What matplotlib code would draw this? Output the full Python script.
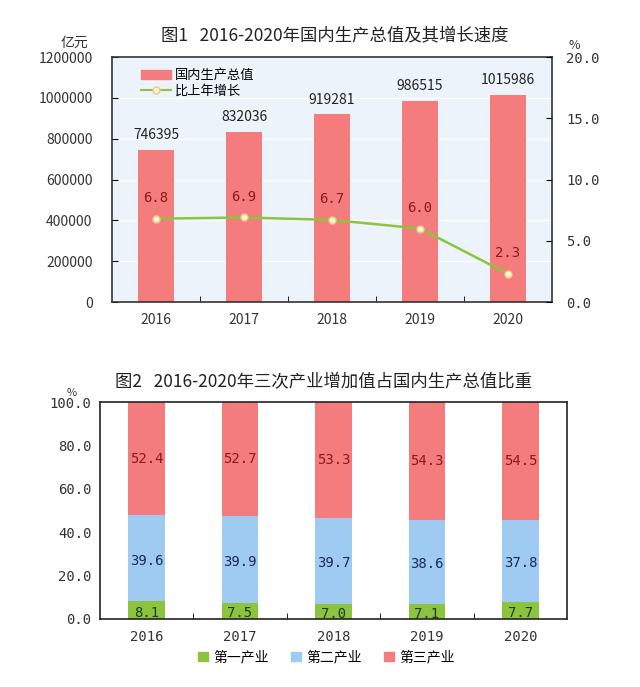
import matplotlib.pyplot as plt
import numpy as np
from matplotlib.patches import Patch
from matplotlib.lines import Line2D

plt.rcParams['font.family'] = ['Noto Sans CJK SC', 'DejaVu Sans']

years = ["2016", "2017", "2018", "2019", "2020"]
gdp = [746395, 832036, 919281, 986515, 1015986]
growth = [6.8, 6.9, 6.7, 6.0, 2.3]

primary = [8.1, 7.5, 7.0, 7.1, 7.7]
secondary = [39.6, 39.9, 39.7, 38.6, 37.8]
tertiary = [52.4, 52.7, 53.3, 54.3, 54.5]

red = "#f47c7c"
green = "#8cc43f"
blue = "#9fcaf2"
numfont = "DejaVu Sans Mono"

fig = plt.figure(figsize=(6.4, 6.87), dpi=100)
x = np.arange(len(years))

# ---- chart 1 ----
ax1 = fig.add_axes([0.175, 0.5604, 0.6875, 0.3566])
ax1.set_facecolor("#edf3fa")
ax1.bar(x, gdp, width=0.41, color=red, zorder=2)
for xi, v in zip(x, gdp):
    ax1.text(xi, v + 38000, str(v), ha="center", va="bottom", fontsize=10, color="#222222")
ax1.set_ylim(0, 1200000)
ax1.set_xlim(-0.5, 4.5)
ax1.set_yticks(np.arange(0, 1200001, 200000))
ax1.set_yticklabels([str(t) for t in range(0, 1200001, 200000)], fontsize=10, color="#333333")
ax1.set_xticks(x)
ax1.set_xticklabels(years, fontsize=10, color="#333333")
ax1.set_xticks(np.arange(0.5, 4.5, 1), minor=True)
ax1.tick_params(axis="x", which="major", length=0, pad=8)
ax1.tick_params(axis="x", which="minor", direction="in", length=4)
ax1.tick_params(axis="y", direction="in", length=4, pad=14)
ax1.grid(axis="y", color="white", linewidth=1, zorder=0)
for s in ax1.spines.values():
    s.set_color("#333333")
    s.set_linewidth(1.2)

ax2 = ax1.twinx()
ax2.plot(x, growth, color=green, linewidth=1.8, marker="o", markersize=5,
         markerfacecolor="#fff6d0", markeredgecolor="#f0c890", zorder=3)
for xi, v in zip(x, growth):
    ax2.text(xi, v + 1.1, f"{v:.1f}", ha="center", va="bottom", fontsize=10,
             color="#8b1a1a", family=numfont)
ax2.set_ylim(0, 20)
ax2.set_yticks([0, 5, 10, 15, 20])
ax2.set_yticklabels(["0.0", "5.0", "10.0", "15.0", "20.0"], fontsize=10,
                    color="#333333", family=numfont)
ax2.tick_params(axis="y", direction="in", length=4, pad=10)
for s in ax2.spines.values():
    s.set_visible(False)

fig.text(0.117, 0.932, "亿元", fontsize=10, color="#333333", ha="center")
fig.text(0.898, 0.928, "%", fontsize=9, color="#333333", ha="center")
fig.text(0.523, 0.948, "图1   2016-2020年国内生产总值及其增长速度", fontsize=12.5,
         ha="center", va="center", color="#222222")

handles = [Patch(color=red),
           Line2D([0], [0], color=green, marker="o", markersize=5,
                  markerfacecolor="#fff6d0", markeredgecolor="#f0c890")]
ax1.legend(handles, ["国内生产总值", "比上年增长"], loc="upper left",
           bbox_to_anchor=(0.04, 1.0), frameon=False, fontsize=9.5,
           handlelength=2.2, handleheight=0.7, handletextpad=0.3,
           labelspacing=0.2)

# ---- chart 2 ----
ax3 = fig.add_axes([0.156, 0.099, 0.730, 0.3158])
w = 0.39
ax3.bar(x, primary, width=w, color=green, zorder=2)
ax3.bar(x, secondary, width=w, bottom=primary, color=blue, zorder=2)
bottom3 = np.array(primary) + np.array(secondary)
ax3.bar(x, tertiary, width=w, bottom=bottom3, color=red, zorder=2)
for xi, a, b, c in zip(x, primary, secondary, tertiary):
    ax3.text(xi, a / 2 - 1.2, f"{a:.1f}", ha="center", va="center", fontsize=10,
             color="#1f3a1f", family=numfont)
    ax3.text(xi, a + b / 2 - 1, f"{b:.1f}", ha="center", va="center", fontsize=10,
             color="#1a2a5a", family=numfont)
    ax3.text(xi, a + b + c / 2, f"{c:.1f}", ha="center", va="center", fontsize=10,
             color="#8b1a1a", family=numfont)
ax3.set_ylim(0, 100)
ax3.set_xlim(-0.5, 4.5)
ax3.set_yticks(np.arange(0, 101, 20))
ax3.set_yticklabels([f"{t:.1f}" for t in range(0, 101, 20)], fontsize=10,
                    color="#333333", family=numfont)
ax3.tick_params(axis="y", length=0, pad=6)
ax3.set_xticks(x)
ax3.set_xticklabels(years, fontsize=10, color="#333333", family=numfont)
ax3.set_xticks(np.arange(0.5, 4.5, 1), minor=True)
ax3.tick_params(axis="x", which="major", length=0, pad=8)
ax3.tick_params(axis="x", which="minor", direction="in", length=4)
for s in ax3.spines.values():
    s.set_color("#222222")
    s.set_linewidth(1.2)

fig.text(0.112, 0.424, "%", fontsize=8, color="#333333", ha="center")
fig.text(0.506, 0.443, "图2   2016-2020年三次产业增加值占国内生产总值比重", fontsize=12.5,
         ha="center", va="center", color="#222222")

leg_handles = [Patch(color=green), Patch(color=blue), Patch(color=red)]
fig.legend(leg_handles, ["第一产业", "第二产业", "第三产业"], loc="center",
           bbox_to_anchor=(0.51, 0.043), ncol=3, frameon=False, fontsize=10,
           handlelength=0.7, handleheight=0.7, handletextpad=0.4,
           columnspacing=1.6)

fig.savefig("out.png", dpi=100, facecolor="white")
